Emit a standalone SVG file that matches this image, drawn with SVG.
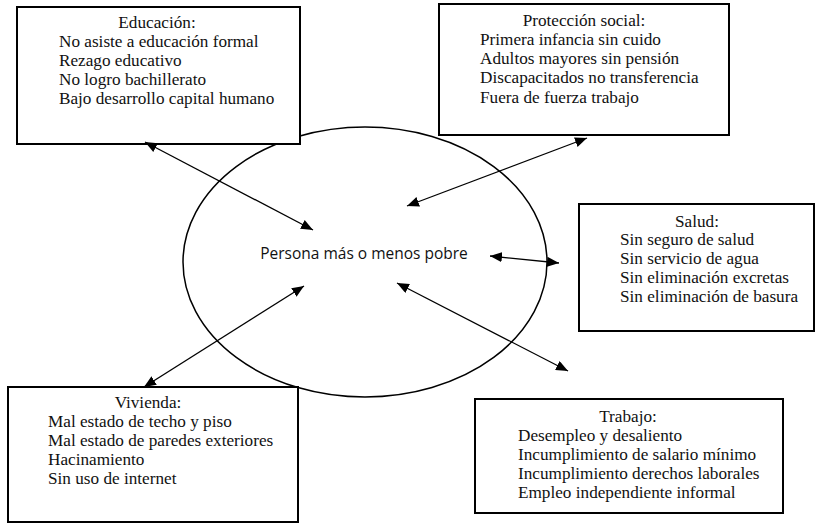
<svg xmlns="http://www.w3.org/2000/svg" width="815" height="523" viewBox="0 0 815 523">
<style>
.box{fill:#fff;stroke:#000;stroke-width:2}
.t{font-family:"Liberation Serif","Times New Roman",serif;font-size:17.2px;fill:#111}
.c{text-anchor:middle}
.conn{stroke:#000;stroke-width:1.3;fill:none;marker-start:url(#ah);marker-end:url(#ah)}
</style>
<defs>
<marker id="ah" markerUnits="userSpaceOnUse" markerWidth="12" markerHeight="10" refX="12" refY="5" orient="auto-start-reverse">
<path d="M0,0 L12,5 L0,10 z" fill="#000"/>
</marker>
</defs>
<rect width="815" height="523" fill="#fff"/>
<g id="persona">
<ellipse cx="365" cy="262" rx="182" ry="135" fill="none" stroke="#000" stroke-width="1.5"/>
<text x="364" y="259" font-family="'Open Sans','Noto Sans',sans-serif" font-size="15.5" fill="#111" text-anchor="middle">Persona más o menos pobre</text>
</g>
<g id="educacion">
<rect class="box" x="17" y="7" width="283" height="137"/>
<text class="t c" x="157" y="28">Educación:</text>
<text class="t" x="59" y="47">No asiste a educación formal</text>
<text class="t" x="59" y="66">Rezago educativo</text>
<text class="t" x="59" y="85">No logro bachillerato</text>
<text class="t" x="59" y="104">Bajo desarrollo capital humano</text>
</g>
<g id="proteccion">
<rect class="box" x="439" y="4" width="290" height="131"/>
<text class="t c" x="584" y="26">Protección social:</text>
<text class="t" x="480" y="45">Primera infancia sin cuido</text>
<text class="t" x="480" y="64">Adultos mayores sin pensión</text>
<text class="t" x="480" y="83">Discapacitados no transferencia</text>
<text class="t" x="480" y="103">Fuera de fuerza trabajo</text>
</g>
<g id="salud">
<rect class="box" x="579" y="204" width="235" height="127"/>
<text class="t c" x="697" y="227">Salud:</text>
<text class="t" x="620" y="245">Sin seguro de salud</text>
<text class="t" x="620" y="264">Sin servicio de agua</text>
<text class="t" x="620" y="283">Sin eliminación excretas</text>
<text class="t" x="620" y="302">Sin eliminación de basura</text>
</g>
<g id="vivienda">
<rect class="box" x="8" y="387" width="290" height="135"/>
<text class="t c" x="148" y="408">Vivienda:</text>
<text class="t" x="48" y="427">Mal estado de techo y piso</text>
<text class="t" x="48" y="446">Mal estado de paredes exteriores</text>
<text class="t" x="48" y="465">Hacinamiento</text>
<text class="t" x="48" y="484">Sin uso de internet</text>
</g>
<g id="trabajo">
<rect class="box" x="475" y="399" width="308" height="114"/>
<text class="t c" x="628" y="422">Trabajo:</text>
<text class="t" x="518" y="441">Desempleo y desaliento</text>
<text class="t" x="518" y="460">Incumplimiento de salario mínimo</text>
<text class="t" x="518" y="479">Incumplimiento derechos laborales</text>
<text class="t" x="518" y="498">Empleo independiente informal</text>
</g>
<g id="connectors">
<line class="conn" x1="145" y1="142" x2="313" y2="230"/>
<line class="conn" x1="587" y1="138" x2="407" y2="206"/>
<line class="conn" x1="490" y1="256" x2="559" y2="263"/>
<line class="conn" x1="144" y1="387" x2="304" y2="286"/>
<line class="conn" x1="397" y1="283" x2="568" y2="371"/>
</g>
</svg>
